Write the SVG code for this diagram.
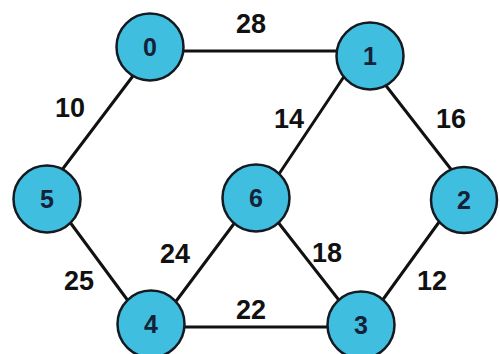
<svg xmlns="http://www.w3.org/2000/svg" width="500" height="354" viewBox="0 0 500 354">
<style>
.edge{stroke:#111;stroke-width:3;stroke-linecap:round;fill:none}
.node circle{fill:#3fbee0;stroke:#151a20;stroke-width:2.5}
.node text{font-family:"Liberation Sans",Arial,sans-serif;font-weight:bold;font-size:25px;fill:#142238;text-anchor:middle}
.lbl{font-family:"Liberation Sans",Arial,sans-serif;font-weight:bold;font-size:27px;fill:#111;text-anchor:middle}
</style>
<rect width="500" height="354" fill="#fff"/>
<g id="connectors">
<line class="edge" x1="150" y1="51" x2="370" y2="51"/>
<line class="edge" x1="152.6" y1="50" x2="43" y2="195"/>
<line class="edge" x1="355" y1="60" x2="265" y2="195"/>
<line class="edge" x1="366" y1="60" x2="471" y2="195"/>
<line class="edge" x1="53.6" y1="200" x2="143.7" y2="322"/>
<line class="edge" x1="251.7" y1="200" x2="160.5" y2="322"/>
<line class="edge" x1="260.7" y1="200" x2="356" y2="322"/>
<line class="edge" x1="455" y1="200" x2="366.7" y2="322"/>
<line class="edge" x1="151" y1="327" x2="361" y2="327"/>
</g>
<g id="labels">
<text class="lbl" x="251" y="33">28</text>
<text class="lbl" x="70" y="117">10</text>
<text class="lbl" x="289" y="128">14</text>
<text class="lbl" x="451" y="128">16</text>
<text class="lbl" x="175" y="263">24</text>
<text class="lbl" x="327" y="262">18</text>
<text class="lbl" x="79" y="290">25</text>
<text class="lbl" x="432" y="290">12</text>
<text class="lbl" x="251" y="319">22</text>
</g>
<g id="node0" class="node"><circle cx="150" cy="47" r="33.5"/><text x="150" y="56">0</text></g>
<g id="node1" class="node"><circle cx="370" cy="56" r="33.5"/><text x="370" y="65">1</text></g>
<g id="node2" class="node"><circle cx="464" cy="200" r="33"/><text x="464" y="209">2</text></g>
<g id="node3" class="node"><circle cx="361" cy="325" r="33.5"/><text x="361" y="334">3</text></g>
<g id="node4" class="node"><circle cx="151" cy="324" r="33.5"/><text x="151" y="333">4</text></g>
<g id="node5" class="node"><circle cx="47" cy="199" r="33.5"/><text x="47" y="208">5</text></g>
<g id="node6" class="node"><circle cx="256" cy="198" r="33.5"/><text x="256" y="207">6</text></g>
</svg>
